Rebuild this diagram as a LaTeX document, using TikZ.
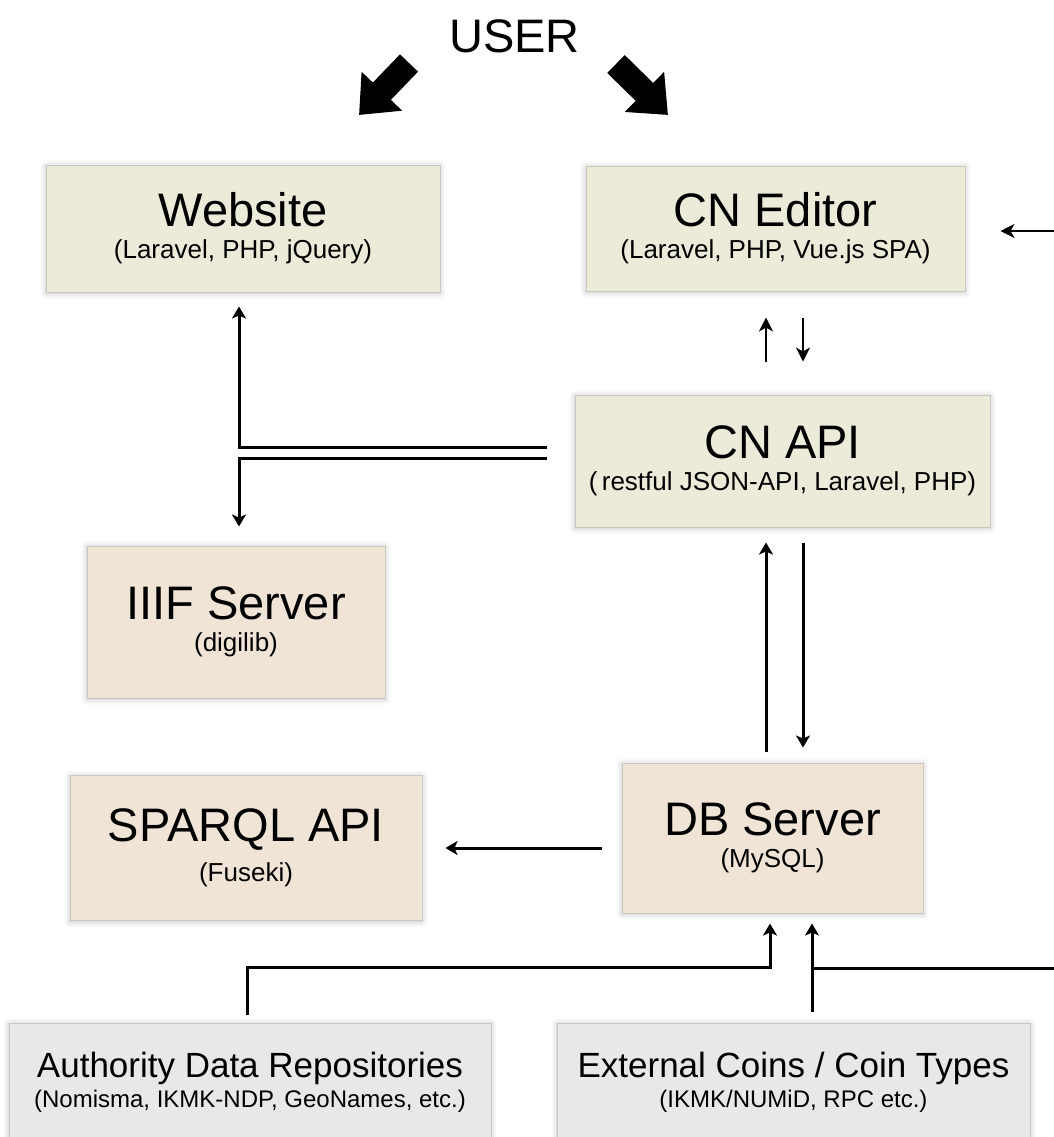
\documentclass[tikz,border=0pt]{standalone}
\usepackage{fontspec}
\setmainfont{Liberation Sans}
\usetikzlibrary{arrows.meta,shadows.blur}

\definecolor{webfill}{RGB}{236,235,217}
\definecolor{srvfill}{RGB}{239,228,214}
\definecolor{extfill}{RGB}{232,232,232}
\definecolor{boxline}{RGB}{200,200,192}

\def\titlesize{\fontsize{23.5}{26}\selectfont}
\def\subsize{\fontsize{13}{16}\selectfont}
\def\smalltitle{\fontsize{17.5}{20}\selectfont}
\def\smallsub{\fontsize{12}{15}\selectfont}

\begin{document}
\begin{tikzpicture}[x=0.5pt,y=-0.5pt]
    \tikzstyle{box}=[rectangle,draw=boxline,line width=0.5pt,align=center,inner sep=0pt,font=\subsize,
        blur shadow={shadow xshift=0pt,shadow yshift=-0.5pt,shadow blur radius=3pt,shadow opacity=25}]
    \tikzstyle{conn}=[line width=1.5pt,-{Stealth[length=6pt,width=7pt,inset=1.5pt]}]
    \tikzstyle{lightconn}=[line width=1.1pt,-{Stealth[length=7pt,width=7pt,inset=2pt]}]
    \tikzstyle{fatarrow}=[line width=12.5pt,-{Triangle[length=16.5pt,width=27pt]}]

    \useasboundingbox (0,0) rectangle (1054,1137);

    \node[inner sep=0pt,font=\titlesize] (user) at (514.5,36.5) {USER};

    \node[box,fill=webfill,minimum width=197pt,minimum height=63.5pt] (web) at (243,228.5)
        {{\titlesize Website}\\(Laravel, PHP, jQuery)};
    \node[box,fill=webfill,minimum width=189.5pt,minimum height=62.5pt] (editor) at (775.5,228.5)
        {{\titlesize CN Editor}\\(Laravel, PHP, Vue.js SPA)};
    \node[box,fill=webfill,minimum width=207.5pt,minimum height=66pt] (api) at (782.5,461)
        {{\titlesize CN API}\\(\,restful JSON-API, Laravel, PHP)};
    \node[box,fill=srvfill,minimum width=149pt,minimum height=76pt] (iiif) at (236,622)
        {{\titlesize IIIF Server}\\(digilib)};
    \node[box,fill=srvfill,minimum width=176pt,minimum height=72.5pt] (sparql) at (246,848)
        {{\titlesize SPARQL API}\\[4pt](Fuseki)};
    \node[box,fill=srvfill,minimum width=150.5pt,minimum height=75pt] (db) at (772.5,838)
        {{\titlesize DB Server}\\(MySQL)};
    \node[box,fill=extfill,font=\smallsub,minimum width=241pt,minimum height=59pt] (auth) at (250,1082)
        {{\smalltitle Authority Data Repositories}\\(Nomisma, IKMK-NDP, GeoNames, etc.)};
    \node[box,fill=extfill,font=\smallsub,minimum width=236.5pt,minimum height=59pt] (ext) at (793.5,1082)
        {{\smalltitle External Coins / Coin Types}\\(IKMK/NUMiD, RPC etc.)};

    % user arrows
    \coordinate (ul0) at (409,63);
    \coordinate (ul1) at (359,115);
    \coordinate (ur0) at (616,64);
    \coordinate (ur1) at (668,115);
    \draw[fatarrow] (ul0) -- (ul1);
    \draw[fatarrow] (ur0) -- (ur1);

    % api to website and iiif
    \draw[conn,shorten >=7pt] ([shift={(-28,-14)}]api.west) -| ([xshift=-2pt]web.south);
    \draw[conn,shorten >=9.5pt] ([shift={(-28,-3)}]api.west) -| ([xshift=1.5pt]iiif.north);

    % editor and api
    \draw[lightconn,shorten <=16.5pt,shorten >=13pt] ([xshift=-8.25pt]api.north) -- ([xshift=-4.75pt]editor.south);
    \draw[lightconn,shorten <=13pt,shorten >=16.5pt] ([xshift=13.75pt]editor.south) -- ([xshift=10.25pt]api.north);
    \coordinate (rout) at (1060,231);
    \draw[lightconn,shorten >=17.5pt] (rout) -- ([yshift=-1.25pt]editor.east);

    % api and db
    \draw[conn,shorten <=5.5pt,shorten >=7.5pt] ([xshift=-3.25pt]db.north) -- ([xshift=-8.25pt]api.south);
    \draw[conn,shorten <=7.5pt,shorten >=7.5pt] ([xshift=10.25pt]api.south) -- ([xshift=15.25pt]db.north);
    \draw[conn,shorten <=10pt,shorten >=11.5pt] ([yshift=-5pt]db.west) -- (sparql.east);

    % sources into db
    \draw[conn,shorten <=4pt,shorten >=5pt] ([xshift=-1.5pt]auth.north) -- ++(0,-55) -| ([xshift=-1.25pt]db.south);
    \draw[conn,shorten <=5.5pt,shorten >=5pt] ([xshift=9.25pt]ext.north) -- ([xshift=19.75pt]db.south);
    \coordinate (rin) at (1060,968);
    \coordinate (rjoin) at (812,968);
    \draw[line width=1.5pt] (rin) -- (rjoin);
\end{tikzpicture}
\end{document}
